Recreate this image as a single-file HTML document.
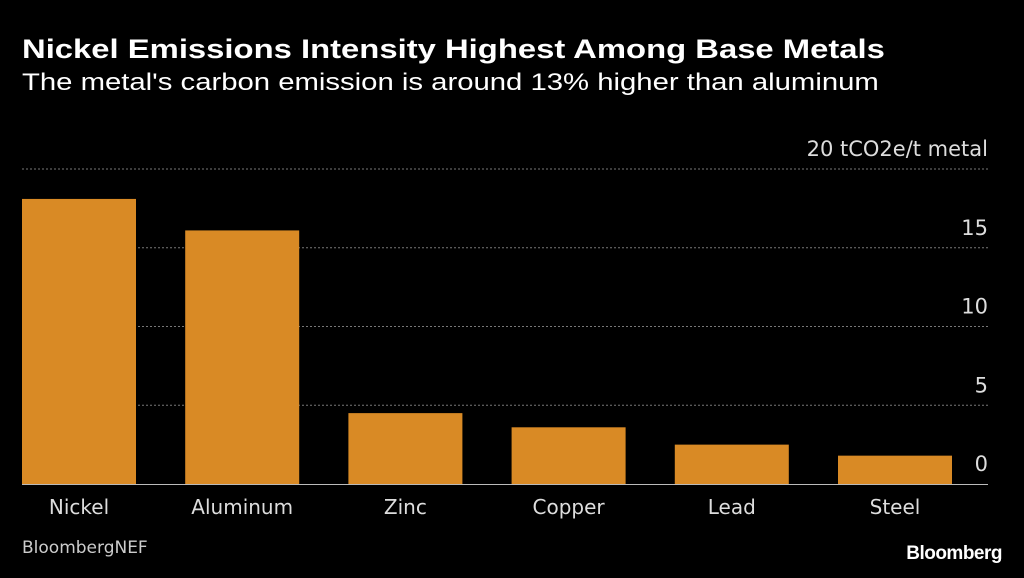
<!DOCTYPE html>
<html><head><meta charset="utf-8"><style>
body{margin:0;background:#000;width:1024px;height:578px;overflow:hidden;font-family:"Liberation Sans",sans-serif;color:#ddd}
#title{position:absolute;left:22px;top:34px;font-size:27px;font-weight:bold;color:#fff;margin:0;white-space:nowrap;transform:scaleX(1.215);transform-origin:0 0}
#sub{position:absolute;left:22px;top:69px;font-size:24px;color:#fff;white-space:nowrap;transform:scaleX(1.22);transform-origin:0 0}
#src{position:absolute;left:22px;top:538px;font-size:17px;color:#ccc;font-family:"DejaVu Sans",sans-serif}
#logo{position:absolute;right:22px;top:543px;font-size:19px;font-weight:bold;color:#fff;letter-spacing:-0.5px}
svg{position:absolute;left:0;top:0}
</style></head><body>
<div id="title">Nickel Emissions Intensity Highest Among Base Metals</div>
<div id="sub">The metal's carbon emission is around 13% higher than aluminum</div>
<svg id="chart" width="1024" height="578"></svg>
<div id="src">BloombergNEF</div>
<div id="logo">Bloomberg</div>
<script>
const categories=["Nickel","Aluminum","Zinc","Copper","Lead","Steel"];
const values=[18.1,16.1,4.5,3.6,2.5,1.8];
const ticks=[0,5,10,15,20];
const tickLabels=["0","5","10","15","20 tCO2e/t metal"];
const svg=document.getElementById('chart');
const NS='http://www.w3.org/2000/svg';
const y=v=>484-v*15.75;
const x0=22,step=163.2,bw=114;
const x=i=>x0+i*step;
const F='DejaVu Sans, sans-serif';
function mk(t,a){const e=document.createElementNS(NS,t);for(const k in a)e.setAttribute(k,a[k]);svg.appendChild(e);return e;}
ticks.forEach((t,i)=>{
  if(t>0){const l=mk('line',{x1:22,x2:988,y1:y(t),y2:y(t),stroke:'#777','stroke-width':1,'stroke-dasharray':'2,2'});
  
  }
  const tx=mk('text',{x:988,y:y(t)-13,'text-anchor':'end',fill:'#ddd','font-size':21,'font-family':F});
  tx.textContent=tickLabels[i];
  
  
});
categories.forEach((c,i)=>{
  const r=mk('rect',{x:x(i),y:y(values[i]),width:bw,height:484-y(values[i]),fill:'#d98a25'});
  
  
  const t=mk('text',{x:x(i)+bw/2,y:514,'text-anchor':'middle',fill:'#ddd','font-size':20,'font-family':F});
  t.textContent=c;
  
  
});
const b=mk('line',{x1:22,x2:988,y1:484.5,y2:484.5,stroke:'#bbb','stroke-width':1});


</script>
</body></html>
